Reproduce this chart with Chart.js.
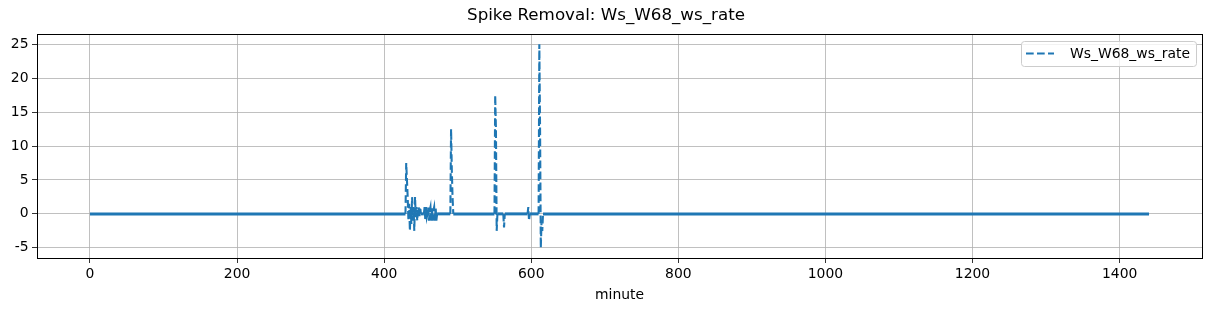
<!DOCTYPE html>
<html>
<head>
<meta charset="utf-8">
<script src="https://cdn.jsdelivr.net/npm/chart.js@4.4.0/dist/chart.umd.min.js"></script>
<style>
  html, body { margin: 0; padding: 0; background: #fff; }
  #wrap { width: 1211px; height: 311px; }
</style>
</head>
<body>
<div id="wrap"><canvas id="myChart" width="1211" height="311"></canvas></div>
<script>
const titleText = 'Spike Removal: Ws_W68_ws_rate';
const seriesName = 'Ws_W68_ws_rate';
const xTickLabels = [0, 200, 400, 600, 800, 1000, 1200, 1400];
const yTickLabels = [-5, 0, 5, 10, 15, 20, 25];

// minute index 0..1440, rate is 0 except where listed below
const lastMinute = 1440;
const spikeMinutes = [430, 431, 432, 433, 434, 435, 436, 437, 438, 439, 440, 441, 442, 443, 444,
    445, 446, 447, 448, 449, 455, 456, 457, 458, 460, 461, 462, 463, 464, 465, 466, 467, 468, 469,
    470, 471, 491, 492, 493, 551, 552, 553, 562, 563, 596, 597, 611, 612, 613, 614, 615];
const spikeValues = [7.5, 5, 2.5, -1, 1.5, -2.5, 1, -1.5, 2.5, -1, 1, -2.5, 2.5, -0.5, 1,
    -1, 0.5, 1, -0.5, 1, 1, -1, 1, -0.5, 1, -1, 0.5, 1, -1, 1, -1, 0.5, 1, -1,
    1, -1, 12.5, 6.5, 2.5, 17.5, 12.5, -2.5, 0, -2, 1, -1, 25, 12.5, -5, -1, -2.5];

const minutes = [];
const rates = [];
for (let m = 0; m <= lastMinute; m++) {
    minutes.push(m);
    const k = spikeMinutes.indexOf(m);
    rates.push(k >= 0 ? spikeValues[k] : 0);
}

const FONT = 'DejaVu Sans';
const lineColor = '#1f77b4';
const dash = [7.7, 3.3];

// frame, title and legend the matplotlib way
const extras = {
    id: 'extras',
    afterDatasetsDraw(chart) {
        const ctx = chart.ctx;
        const a = chart.chartArea;
        ctx.save();
        ctx.strokeStyle = '#000';
        ctx.lineWidth = 1;
        ctx.strokeRect(Math.round(a.left) + 0.5, Math.round(a.top) + 0.5,
            Math.round(a.right - a.left), Math.round(a.bottom - a.top));

        // legend box
        const bx = 1021, by = 41, bw = 175, bh = 25;
        ctx.fillStyle = 'rgba(255,255,255,0.8)';
        ctx.strokeStyle = '#cccccc';
        ctx.beginPath();
        ctx.roundRect(bx + 0.5, by + 0.5, bw, bh, 3);
        ctx.fill();
        ctx.stroke();
        ctx.strokeStyle = lineColor;
        ctx.lineWidth = 2.08;
        ctx.setLineDash(dash);
        ctx.beginPath();
        ctx.moveTo(bx + 5, by + 12.5);
        ctx.lineTo(bx + 33, by + 12.5);
        ctx.stroke();
        ctx.setLineDash([]);
        ctx.fillStyle = '#000';
        ctx.font = '13.9px "' + FONT + '"';
        ctx.textBaseline = 'middle';
        ctx.textAlign = 'left';
        ctx.fillText(seriesName, bx + 49, by + 13);

        // title
        ctx.font = '16.7px "' + FONT + '"';
        ctx.textAlign = 'center';
        ctx.fillText(titleText, 606, 16);
        ctx.restore();
    }
};

const ctx = document.getElementById('myChart').getContext('2d');
const myChart = new Chart(ctx, {
    type: 'line',
    data: {
        datasets: [{
            label: seriesName,
            data: minutes.map((m, i) => ({ x: m, y: rates[i] })),
            borderColor: lineColor,
            borderWidth: 2.08,
            borderDash: dash,
            pointRadius: 0,
            tension: 0,
            fill: false,
            segment: {
                // flat stretches read as a solid band in the original
                borderDash: c => (c.p0.parsed.y === 0 && c.p1.parsed.y === 0) ? [] : undefined,
                borderWidth: c => (c.p0.parsed.y === 0 && c.p1.parsed.y === 0) ? 3 : undefined
            }
        }]
    },
    options: {
        responsive: false,
        animation: false,
        events: [],
        layout: { padding: { top: 34, left: 0, right: 9, bottom: 0 } },
        plugins: {
            legend: { display: false },
            title: { display: false },
            tooltip: { enabled: false }
        },
        scales: {
            x: {
                type: 'linear',
                min: -72,
                max: 1512,
                afterFit: s => { s.height = 53; },
                afterBuildTicks: s => { s.ticks = xTickLabels.map(v => ({ value: v })); },
                ticks: {
                    color: '#000',
                    font: { family: FONT, size: 13.9 },
                    padding: 3,
                    maxRotation: 0,
                    autoSkip: false,
                    callback: v => String(v)
                },
                grid: { color: '#b0b0b0', lineWidth: 0.8, tickColor: '#000', tickLength: 5 },
                border: { color: '#000' },
                title: {
                    display: true,
                    text: 'minute',
                    color: '#000',
                    font: { family: FONT, size: 13.9 },
                    padding: { top: 0, bottom: 7 }
                }
            },
            y: {
                min: -6.5,
                max: 26.5,
                afterFit: s => { s.width = 37; },
                afterBuildTicks: s => { s.ticks = yTickLabels.map(v => ({ value: v })); },
                ticks: {
                    color: '#000',
                    font: { family: FONT, size: 13.9 },
                    padding: 3.5,
                    callback: v => String(v)
                },
                grid: { color: '#b0b0b0', lineWidth: 0.8, tickColor: '#000', tickLength: 5 },
                border: { color: '#000' }
            }
        }
    },
    plugins: [extras]
});
</script>
</body>
</html>
